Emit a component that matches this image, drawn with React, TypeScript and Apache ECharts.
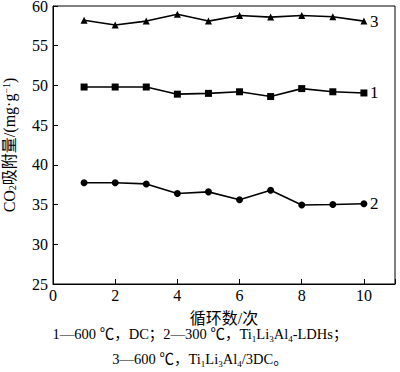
import React, { useEffect, useRef } from "react";
import * as echarts from "echarts";

const cycles = [1, 2, 3, 4, 5, 6, 7, 8, 9, 10];
const series1 = [49.8, 49.8, 49.8, 48.9, 49.0, 49.2, 48.6, 49.6, 49.2, 49.05];
const series2 = [37.75, 37.75, 37.6, 36.4, 36.6, 35.6, 36.8, 34.95, 35.0, 35.1];
const series3 = [58.2, 57.6, 58.1, 58.95, 58.1, 58.8, 58.6, 58.8, 58.65, 58.1];
const seriesNames = ["1", "2", "3"];
const xTicks = [0, 2, 4, 6, 8, 10];

const FONT = "'Liberation Serif', 'Times New Roman', 'Noto Sans CJK SC', serif";

export default function App() {
  const ref = useRef<HTMLDivElement>(null);
  useEffect(() => {
    if (!ref.current) return;
    const chart = echarts.init(ref.current, null, { renderer: "svg" });
    const mk = (vals: number[]) => cycles.map((c, i) => [c, vals[i]]);
    const lineStyle = { color: "#000", width: 1.6 };
    const endLabel = {
      show: true,
      formatter: "{a}",
      color: "#000",
      fontFamily: FONT,
      fontSize: 17,
      distance: 6,
    };
    const footRich = {
      n: { fontSize: 14.5, fontFamily: FONT, fill: "#000", lineHeight: 18, verticalAlign: "middle" },
      s: { fontSize: 9, fontFamily: FONT, fill: "#000", lineHeight: 18, verticalAlign: "bottom", padding: [6, 0, 0, 0] },
    };
    chart.setOption({
      animation: false,
      backgroundColor: "#fff",
      grid: {
        left: 53,
        top: 6,
        right: 5,
        bottom: 88,
        containLabel: false,
        outerBoundsMode: "none",
        show: true,
        borderColor: "#000",
        borderWidth: 1,
      },
      xAxis: {
        type: "value",
        min: 0,
        max: 11,
        interval: 2,
        name: "循环数/次",
        nameLocation: "middle",
        nameGap: 26,
        nameTextStyle: { color: "#000", fontSize: 16, fontFamily: FONT },
        axisLine: { lineStyle: { color: "#000", width: 1 } },
        axisTick: { inside: true, length: 5, lineStyle: { color: "#000" } },
        axisLabel: {
          color: "#000",
          fontSize: 16,
          fontFamily: FONT,
          margin: 3,
          formatter: (v: number) => (xTicks.includes(v) ? String(v) : ""),
        },
        splitLine: { show: false },
      },
      yAxis: {
        type: "value",
        min: 25,
        max: 60,
        interval: 5,
        name: "{n|CO}{s|2}{n|吸附量/(mg·g}{p|−1}{n|)}",
        nameLocation: "middle",
        nameRotate: 90,
        nameGap: 36,
        nameTextStyle: {
          color: "#000",
          fontFamily: FONT,
          rich: {
            n: { fontSize: 16, fontFamily: FONT, color: "#000", lineHeight: 16, verticalAlign: "middle" },
            s: { fontSize: 10, fontFamily: FONT, color: "#000", lineHeight: 16, verticalAlign: "bottom", padding: [5, 0, 0, 0] },
            p: { fontSize: 10, fontFamily: FONT, color: "#000", lineHeight: 16, verticalAlign: "top", padding: [0, 0, 5, 0] },
          },
        },
        axisLine: { lineStyle: { color: "#000", width: 1 } },
        axisTick: { inside: true, length: 5, lineStyle: { color: "#000" } },
        axisLabel: { color: "#000", fontSize: 16, lineHeight: 12, fontFamily: FONT, margin: 5 },
        splitLine: { show: false },
      },
      series: [
        {
          name: seriesNames[0],
          type: "line",
          data: mk(series1),
          symbol: "rect",
          symbolSize: 7,
          itemStyle: { color: "#000" },
          lineStyle,
          endLabel,
        },
        {
          name: seriesNames[1],
          type: "line",
          data: mk(series2),
          symbol: "circle",
          symbolSize: 7,
          itemStyle: { color: "#000" },
          lineStyle,
          endLabel,
        },
        {
          name: seriesNames[2],
          type: "line",
          data: mk(series3),
          symbol: "triangle",
          symbolSize: 7,
          itemStyle: { color: "#000" },
          lineStyle,
          endLabel,
        },
      ],
      graphic: [
        {
          type: "text",
          left: "center",
          top: 327,
          style: {
            text: "{n|1—600 ℃，DC；2—300 ℃，Ti}{s|1}{n|Li}{s|3}{n|Al}{s|4}{n|-LDHs；}",
            fill: "#000",
            rich: footRich,
          },
        },
        {
          type: "text",
          left: "center",
          top: 352,
          style: {
            text: "{n|3—600 ℃，Ti}{s|1}{n|Li}{s|3}{n|Al}{s|4}{n|/3DC。}",
            fill: "#000",
            rich: footRich,
          },
        },
      ],
    });
    return () => chart.dispose();
  }, []);
  return <div ref={ref} style={{ width: 400, height: 372, position: "absolute", left: 0, top: 0 }} />;
}
